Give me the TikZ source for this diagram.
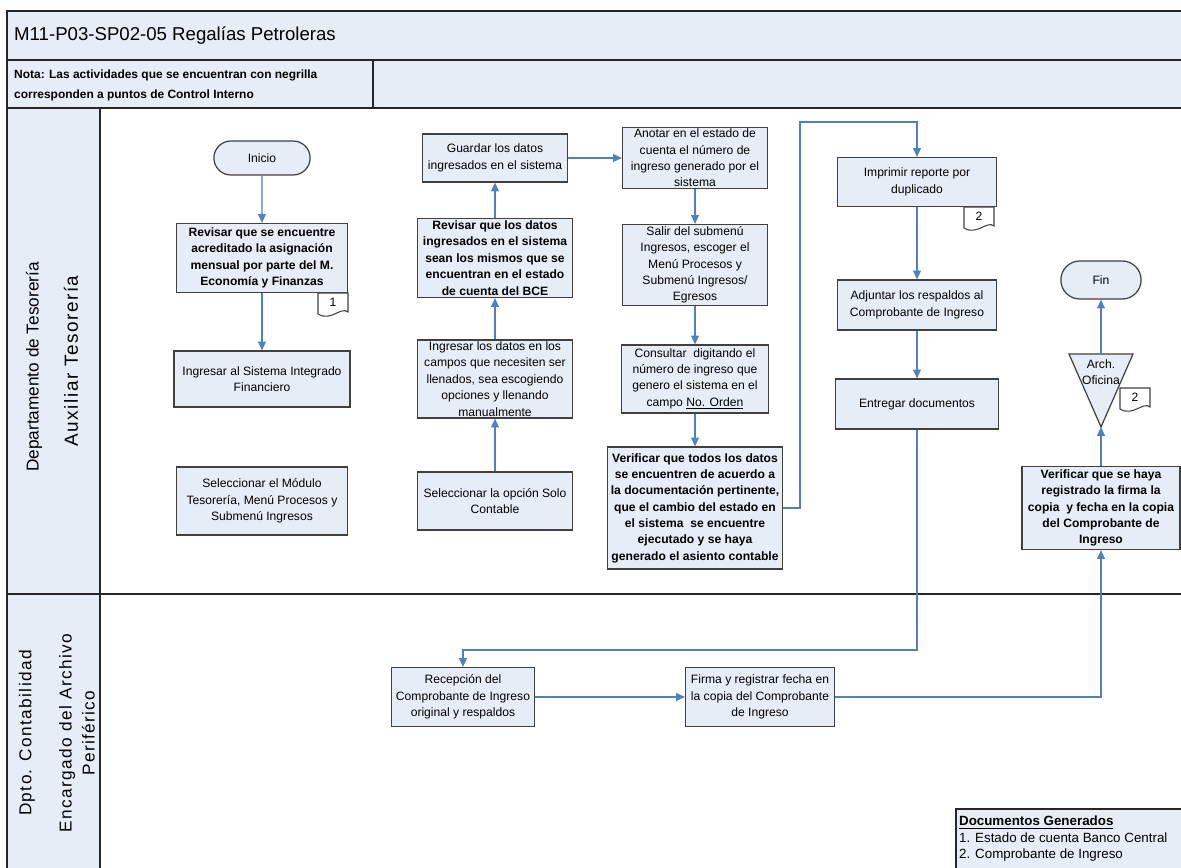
\documentclass[tikz,border=0pt]{standalone}
\usepackage{fontspec}
\setmainfont{Liberation Sans}
\newfontfamily\lanefont[LetterSpace=8]{Liberation Sans}
\usetikzlibrary{shapes,arrows.meta}
\definecolor{lanefill}{RGB}{231,237,247}
\definecolor{flowblue}{RGB}{79,129,189}
\definecolor{boxline}{RGB}{64,64,64}
\newcommand{\boxfont}{\fontsize{6.9}{9.3}\selectfont}
\tikzstyle{task}=[rectangle,fill=lanefill,draw=boxline,line width=0.7pt,
  align=center,inner xsep=1pt,inner ysep=0pt,font=\boxfont]
\tikzstyle{ctrl}=[task,font=\boxfont\bfseries]
\tikzstyle{term}=[rounded rectangle,fill=lanefill,draw=boxline,line width=0.7pt,
  font=\boxfont]
\tikzstyle{flow}=[draw=flowblue,line width=0.6pt,-{Triangle[length=5pt,width=4.5pt]}]
\tikzstyle{frame}=[draw=black!85,line width=0.7pt]
\tikzstyle{tagline}=[fill=white,draw=boxline,line width=0.6pt]
% small document symbol: name, x, y (top left), number
\newcommand{\doctag}[4]{%
  \draw[tagline] (#2,#3) -- (#2+30,#3) -- (#2+30,#3+19)
    .. controls (#2+23,#3+13) and (#2+13,#3+29) .. (#2,#3+21) -- cycle;
  \node[font=\boxfont] (#1) at (#2+15,#3+9) {#4};
}

\begin{document}
\begin{tikzpicture}[x=0.02cm,y=-0.02cm]
    \useasboundingbox (0,0) rectangle (1181,868);
    % header and lanes
    \fill[lanefill] (7,11) rectangle (1181,108);
    \fill[lanefill] (7,108) rectangle (100,868);
    \draw[frame] (1181,11) -- (7,11) -- (7,868);
    \draw[frame] (7,60) -- (1181,60);
    \draw[frame] (373,60) -- (373,108);
    \draw[frame] (7,108) -- (1181,108);
    \draw[frame] (100,108) -- (100,868);
    \draw[frame] (7,594) -- (1181,594);
    \node[anchor=west,font=\fontsize{10.6}{12}\selectfont] (title) at (8,36) {M11-P03-SP02-05 Regalías Petroleras};
    \node[anchor=west,align=left,font=\fontsize{6.8}{11.3}\selectfont\bfseries] (nota) at (8,85) {Nota: Las actividades que se encuentran con negrilla\\corresponden a puntos de Control Interno};
    \node[rotate=90,font=\fontsize{9.8}{12}\selectfont] (dept) at (34,367) {Departamento de Tesorería};
    \node[rotate=90,font=\lanefont\fontsize{10.8}{12}\selectfont] (aux) at (71,361) {Auxiliar Tesorería};
    \node[rotate=90,font=\lanefont\fontsize{9.8}{12}\selectfont] (dpto) at (27,733) {Dpto. Contabilidad};
    \node[rotate=90,align=center,font=\lanefont\fontsize{9.8}{13}\selectfont] (arch) at (77,733) {Encargado del Archivo\\Periférico};

    % Auxiliar Tesoreria
    \node [term,minimum width=2.16cm,minimum height=0.68cm] (ini) at (262,158) {Inicio};
    \node [ctrl,minimum width=3.42cm,minimum height=1.38cm] (rev1) at (262,258) {Revisar que se encuentre\\acreditado la asignación\\mensual por parte del M.\\Economía y Finanzas};
    \node [task,minimum width=3.52cm,minimum height=1.12cm] (ing1) at (262,379) {Ingresar al Sistema Integrado\\Financiero};
    \node [task,minimum width=3.42cm,minimum height=1.36cm] (sel1) at (262,501) {Seleccionar el Módulo\\Tesorería, Menú Procesos y\\Submenú Ingresos};
    \doctag{tag1}{318}{293}{1}

    \node [task,minimum width=2.9cm,minimum height=0.96cm] (gua) at (495,158) {Guardar los datos\\ingresados en el sistema};
    \node [ctrl,minimum width=3.1cm,minimum height=1.58cm] (rev2) at (495,258) {Revisar que los datos\\ingresados en el sistema\\sean los mismos que se\\encuentran en el estado\\de cuenta del BCE};
    \node [task,minimum width=3.1cm,minimum height=1.56cm] (ing2) at (495,379) {Ingresar los datos en los\\campos que necesiten ser\\llenados, sea escogiendo\\opciones y llenando\\manualmente};
    \node [task,minimum width=3.1cm,minimum height=1.16cm] (sel2) at (495,501) {Seleccionar la opción Solo\\Contable};

    \node [task,minimum width=2.9cm,minimum height=1.22cm] (ano) at (695,158) {Anotar en el estado de\\cuenta el número de\\ingreso generado por el\\sistema};
    \node [task,minimum width=2.9cm,minimum height=1.62cm] (sal) at (695,265) {Salir del submenú\\Ingresos, escoger el\\Menú Procesos y\\Submenú Ingresos/\\Egresos};
    \node [task,minimum width=2.94cm,minimum height=1.36cm] (con) at (695,379) {Consultar\ \ digitando el\\número de ingreso que\\genero el sistema en el\\campo \underline{No. Orden}};
    \node [ctrl,minimum width=3.5cm,minimum height=2.44cm] (ver1) at (695,508) {Verificar que todos los datos\\se encuentren de acuerdo a\\la documentación pertinente,\\que el cambio del estado en\\el sistema\ \ se encuentre\\ejecutado y se haya\\generado el asiento contable};

    \node [task,minimum width=3.18cm,minimum height=0.98cm] (imp) at (917,182) {Imprimir reporte por\\duplicado};
    \node [task,minimum width=3.18cm,minimum height=1.0cm] (adj) at (917,305) {Adjuntar los respaldos al\\Comprobante de Ingreso};
    \node [task,minimum width=3.26cm,minimum height=1.0cm] (ent) at (917,404) {Entregar documentos};
    \doctag{tag2}{964}{207}{2}

    \node [term,minimum width=1.84cm,minimum height=0.76cm] (fin) at (1101,280) {Fin};
    \draw[task] (1069,354) -- (1133,354) -- (1101,427) -- cycle;
    \coordinate (archtop) at (1101,354);
    \coordinate (archtip) at (1101,427);
    \node[font=\boxfont,align=center] (archtext) at (1101,372) {Arch.\\Oficina};
    \doctag{tag3}{1120}{388}{2}
    \node [ctrl,minimum width=3.16cm,minimum height=1.66cm] (ver2) at (1101,508) {Verificar que se haya\\registrado la firma la\\copia\ \ y fecha en la copia\\del Comprobante de\\Ingreso};

    % Encargado del Archivo
    \node [task,minimum width=2.86cm,minimum height=1.18cm] (rec) at (463,697) {Recepción del\\Comprobante de Ingreso\\original y respaldos};
    \node [task,minimum width=2.98cm,minimum height=1.18cm] (fir) at (760,697) {Firma y registrar fecha en\\la copia del Comprobante\\de Ingreso};

    % documents
    \fill[lanefill] (956,809) rectangle (1181,868);
    \draw[frame] (956,868) -- (956,809) -- (1181,809);
    \node[anchor=north west,align=left,inner sep=1pt,font=\fontsize{7.6}{9.4}\selectfont] (docs) at (957,814) {\textbf{\underline{Documentos Generados}}\\1. Estado de cuenta Banco Central\\2. Comprobante de Ingreso};

    % connectors
    \coordinate (bend1) at (800,122);
    \coordinate (bend2) at (917,650);
    \draw[flow] (ini) to (rev1);
    \draw[flow] (rev1) to (ing1);
    \draw[flow] (sel2) to (ing2);
    \draw[flow] (ing2) to (rev2);
    \draw[flow] (rev2) to (gua);
    \draw[flow] (gua) to (ano);
    \draw[flow] (ano) to (sal);
    \draw[flow] (sal) to (con);
    \draw[flow] (con) to (ver1);
    \draw[flow] (ver1.east) -| (bend1) -| (imp.north);
    \draw[flow] (imp) to (adj);
    \draw[flow] (adj) to (ent);
    \draw[flow] (ent.south) -- (bend2) -| (rec.north);
    \draw[flow] (rec) to (fir);
    \draw[flow] (fir.east) -| (ver2.south);
    \draw[flow] (ver2.north) -- (archtip);
    \draw[flow] (archtop) -- (fin.south);
  \end{tikzpicture}
\end{document}
